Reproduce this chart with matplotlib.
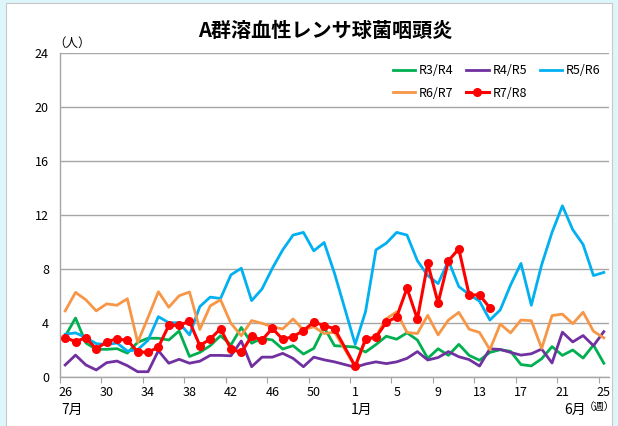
import numpy as np
import matplotlib
matplotlib.use("Agg")
import matplotlib.pyplot as plt
from matplotlib.patches import Rectangle

plt.rcParams['font.family'] = ['Noto Sans CJK JP', 'DejaVu Sans']

# weeks 26..53, 1..25 (week 53 is empty for every season)
weeks = list(range(26, 54)) + list(range(1, 26))
nan = np.nan

r3r4 = [3.0, 4.35, 2.5, 2.03, 2.03, 2.08, 1.75, 2.55, 2.85, 2.85, 2.72, 3.39, 1.5, 1.8,
        2.3, 3.04, 2.35, 3.65, 2.48, 2.85, 2.72, 2.05, 2.3, 1.68, 2.1, 3.65, 2.3, nan,
        2.2, 1.83, 2.38, 3.0, 2.78, 3.25, 2.72, 1.36, 2.07, 1.58, 2.4, 1.58, 1.22, 1.8,
        2.0, 1.88, 0.9, 0.8, 1.33, 2.23, 1.58, 1.98, 1.38, 2.35, 1.0]
r4r5 = [0.87, 1.6, 0.87, 0.5, 1.04, 1.16, 0.82, 0.37, 0.37, 1.93, 1.0, 1.29, 1.0, 1.15,
        1.58, 1.58, 1.55, 2.65, 0.74, 1.45, 1.45, 1.73, 1.36, 0.74, 1.45, 1.25, 1.1, nan,
        0.7, 0.94, 1.1, 0.97, 1.1, 1.36, 1.86, 1.24, 1.42, 1.86, 1.48, 1.27, 0.79, 2.07,
        2.02, 1.8, 1.6, 1.7, 2.05, 1.02, 3.3, 2.58, 3.05, 2.3, 3.34]
r5r6 = [3.15, 3.25, 2.9, 2.45, 2.38, 2.5, 1.9, 2.0, 2.7, 4.45, 4.0, 4.0, 3.1, 5.2,
        5.9, 5.8, 7.55, 8.04, 5.64, 6.5, 8.04, 9.4, 10.5, 10.7, 9.33, 9.95, 7.67, nan,
        2.4, 4.83, 9.4, 9.9, 10.7, 10.5, 8.6, 7.5, 6.9, 8.6, 6.68, 6.1, 5.6, 4.2,
        4.95, 6.8, 8.4, 5.3, 8.3, 10.7, 12.67, 10.9, 9.8, 7.5, 7.73]
r6r7 = [4.88, 6.25, 5.7, 4.88, 5.4, 5.3, 5.78, 2.55, 4.4, 6.3, 5.15, 6.0, 6.28, 3.5,
        5.25, 5.7, 3.96, 3.04, 4.16, 3.96, 3.7, 3.54, 4.28, 3.47, 3.7, 3.2, 3.3, nan,
        0.74, 2.7, 3.0, 4.3, 4.8, 3.28, 3.2, 4.55, 3.1, 4.2, 4.77, 3.52, 3.28, 2.0,
        3.9, 3.25, 4.2, 4.15, 2.1, 4.53, 4.64, 3.93, 4.78, 3.37, 2.88]
r7r8 = [2.9, 2.6, 2.9, 2.05, 2.6, 2.8, 2.7, 1.85, 1.8, 2.2, 3.8, 3.82, 4.1, 2.3,
        2.8, 3.55, 2.05, 1.8, 3.0, 2.72, 3.58, 2.77, 2.97, 3.42, 4.05, 3.79, 3.56, nan,
        0.77, 2.8, 2.92, 4.03, 4.43, 6.56, 4.27, 8.4, 5.47, 8.6, 9.48, 6.06, 6.06, 5.1]

series = [
    ("R3/R4", r3r4, "#00B050"),
    ("R4/R5", r4r5, "#7030A0"),
    ("R5/R6", r5r6, "#00B0F0"),
    ("R6/R7", r6r7, "#F79646"),
    ("R7/R8", r7r8, "#FF0000"),
]

fig = plt.figure(figsize=(6.18, 4.26), dpi=100)
fig.patch.set_facecolor("#DDF6FA")
fig.patches.append(Rectangle((6 / 618, 0), 606 / 618, 1 - 3 / 426, transform=fig.transFigure,
                             facecolor="white", edgecolor="#C8C8C8", lw=0.8, zorder=-10))

ax = fig.add_axes([60 / 618, 1 - 376.7 / 426, 549 / 618, 323.7 / 426])
ax.set_facecolor("white")

lines = {}
for name, vals, col in series:
    y = np.array(vals, dtype=float)
    x = np.arange(len(y))
    ok = ~np.isnan(y)
    if name == "R7/R8":
        ln, = ax.plot(x[ok], y[ok], color=col, lw=2.2, marker="o", ms=5.5, label=name, zorder=5)
    else:
        ln, = ax.plot(x[ok], y[ok], color=col, lw=2.0, label=name, zorder=3)
    lines[name] = ln

ax.set_xlim(-0.5, len(weeks) - 0.5)
ax.set_ylim(0, 24)
ax.set_yticks(range(0, 25, 4))
ax.tick_params(axis="y", length=0, labelsize=9, pad=8)
ax.yaxis.grid(True, color="#A6A6A6", lw=1.0)
ax.set_axisbelow(True)

lab_idx = list(range(0, len(weeks), 4))
ax.set_xticks([i - 0.5 for i in lab_idx])
ax.set_xticklabels([])
ax.tick_params(axis="x", which="major", length=4, color="#A6A6A6", direction="out")
ax.set_xticks(lab_idx, minor=True)
ax.set_xticklabels([str(weeks[i]) for i in lab_idx], minor=True)
ax.tick_params(axis="x", which="minor", length=0, labelsize=9, pad=7)

for s in ["top", "right"]:
    ax.spines[s].set_visible(False)
for s in ["left", "bottom"]:
    ax.spines[s].set_color("#A6A6A6")
    ax.spines[s].set_linewidth(1.0)

fig.text(325 / 618, 1 - 30 / 426, "A群溶血性レンサ球菌咽頭炎", ha="center", va="center",
         fontsize=14.5, fontweight="bold")
fig.text(72 / 618, 1 - 43 / 426, "（人）", ha="center", va="center", fontsize=9)
fig.text(72 / 618, 1 - 410 / 426, "7月", ha="center", va="center", fontsize=10)
fig.text(362 / 618, 1 - 410 / 426, "1月", ha="center", va="center", fontsize=10)
fig.text(575 / 618, 1 - 410 / 426, "6月", ha="center", va="center", fontsize=10)
fig.text(615 / 618, 1 - 408 / 426, "（週）", ha="right", va="center", fontsize=7.5)

# legend fills column-wise; order so rows read R3/R4 R4/R5 R5/R6 / R6/R7 R7/R8
order = ["R3/R4", "R6/R7", "R4/R5", "R7/R8", "R5/R6"]
ax.legend([lines[n] for n in order], order, loc="upper right",
          bbox_to_anchor=(1.005, 1.0), ncol=3, frameon=False,
          fontsize=9, handlelength=1.8, handletextpad=0.3, columnspacing=1.0,
          labelspacing=0.75)

fig.savefig("out.png", dpi=100, facecolor=fig.get_facecolor())
